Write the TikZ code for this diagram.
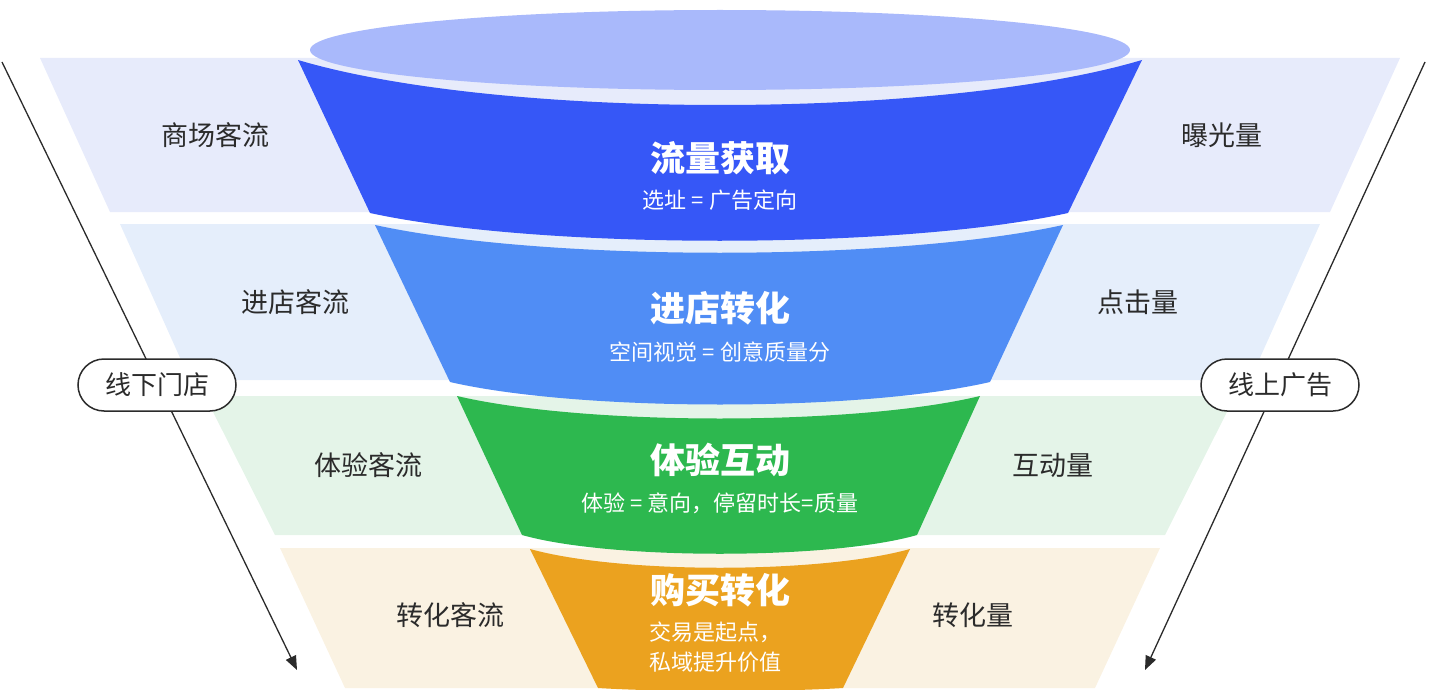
\documentclass[tikz,border=0pt]{standalone}
\usepackage{fontspec}
\setmainfont{Noto Sans CJK SC}
\usetikzlibrary{arrows.meta}
\definecolor{bandA}{HTML}{E7EBFB}
\definecolor{bandB}{HTML}{E5EEFB}
\definecolor{bandC}{HTML}{E4F4E8}
\definecolor{bandD}{HTML}{FAF2E2}
\definecolor{segA}{HTML}{3657F7}
\definecolor{segB}{HTML}{508DF5}
\definecolor{segC}{HTML}{2DB84F}
\definecolor{segD}{HTML}{EBA21F}
\definecolor{topE}{HTML}{A9B9FB}
\definecolor{ink}{HTML}{2B2B2B}
\tikzset{
 ttl/.style={text=white,font=\fontsize{35}{38}\selectfont\bfseries},
 sub/.style={text=white,font=\fontsize{22}{30}\selectfont},
 side/.style={text=ink,font=\fontsize{27}{30}\selectfont},
 pill/.style={draw=ink,line width=1.5pt,fill=white,rounded corners=26pt,minimum width=158pt,minimum height=52pt,text=ink,font=\fontsize{26}{28}\selectfont},
 arr/.style={draw=ink,line width=1.3pt,-{Triangle[length=14pt,width=11pt]}}
}
\begin{document}
\begin{tikzpicture}[x=1pt,y=-1pt]
\useasboundingbox (0,0) rectangle (1440,690);
% bands
\fill[bandA] (40,58)--(1400,58)--(1330,212)--(110,212)--cycle;
\fill[bandB] (120,224)--(1320,224)--(1250,380)--(190,380)--cycle;
\fill[bandC] (205,396)--(1235,396)--(1165,535)--(275,535)--cycle;
\fill[bandD] (280,548)--(1160,548)--(1095,688)--(345,688)--cycle;
% funnel segments
\fill[segA] (298,60) .. controls (500,120) and (940,120) .. (1142,60) -- (1068,213) .. controls (900,250) and (540,250) .. (370,213) -- cycle;
\fill[segB] (375,225) .. controls (545,262) and (895,262) .. (1063,225) -- (990,382) .. controls (860,412) and (580,412) .. (450,382) -- cycle;
\fill[segC] (457,396) .. controls (585,426) and (855,426) .. (980,396) -- (917,535) .. controls (830,560) and (610,560) .. (522,535) -- cycle;
\fill[segD] (530,549) .. controls (620,574) and (820,574) .. (910,549) -- (843,688) .. controls (780,692) and (660,692) .. (598,688) -- cycle;
\fill[topE] (720,50) ellipse [x radius=410, y radius=40];
% titles
\node[ttl] (t1) at (720,158) {流量获取};
\node[sub] (s1) at (720,200) {选址 = 广告定向};
\node[ttl] (t2) at (720,308) {进店转化};
\node[sub] (s2) at (720,352) {空间视觉 = 创意质量分};
\node[ttl] (t3) at (720,460) {体验互动};
\node[sub] (s3) at (720,503) {体验 = 意向，停留时长=质量};
\node[ttl] (t4) at (720,590) {购买转化};
\node[sub,align=left,anchor=north west] (s4) at (646,618) {交易是起点，\\私域提升价值};
% side labels
\node[side] (l1) at (215,135) {商场客流};
\node[side] (l2) at (295,302) {进店客流};
\node[side] (l3) at (368,465) {体验客流};
\node[side] (l4) at (450,615) {转化客流};
\node[side] (r1) at (1222,135) {曝光量};
\node[side] (r2) at (1138,302) {点击量};
\node[side] (r3) at (1053,465) {互动量};
\node[side] (r4) at (973,615) {转化量};
% arrows
\coordinate (la) at (2,62); \coordinate (lb) at (297,670);
\coordinate (ra) at (1425,62); \coordinate (rb) at (1145,670);
\draw[arr] (la) -- (lb);
\draw[arr] (ra) -- (rb);
\node[pill] (pl) at (157,385) {线下门店};
\node[pill] (pr) at (1280,385) {线上广告};
\end{tikzpicture}
\end{document}
